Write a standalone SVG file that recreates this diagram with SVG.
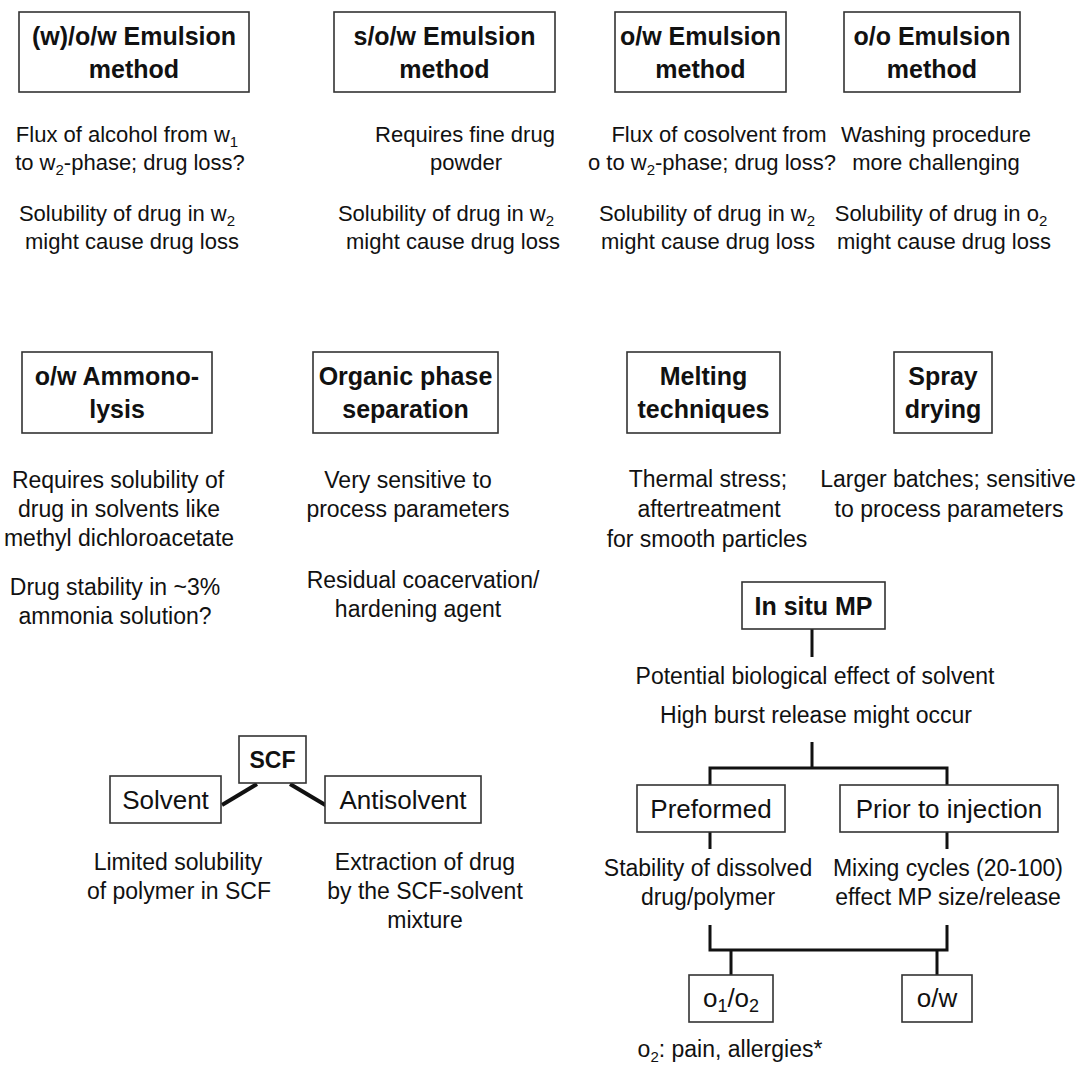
<svg xmlns="http://www.w3.org/2000/svg" width="1078" height="1065" viewBox="0 0 1078 1065">
<style>
  text { font-family: "Liberation Sans", Arial, sans-serif; fill: #111; text-anchor: middle; }
  .t { font-size: 22px; }
  .m { font-size: 23px; }
  .b { font-size: 25px; font-weight: bold; }
  .l { font-size: 26px; }
  .box { fill: #fff; stroke: #333; stroke-width: 1.6; }
  .c { fill: none; stroke: #111; stroke-width: 3; stroke-linejoin: miter; stroke-linecap: butt; }
  .c4 { fill: none; stroke: #111; stroke-width: 4; }
</style>
<rect width="1078" height="1065" fill="#fff"/>

<!-- Connectors -->
<g id="connectors">
  <line class="c4" x1="222" y1="805" x2="257" y2="784"/>
  <line class="c4" x1="290" y1="784" x2="327" y2="806"/>
  <path class="c" d="M812 629 V657"/>
  <path class="c" d="M812 742 V768 M710 785 V768 H947 V785"/>
  <path class="c" d="M710 832 V849 M947 832 V849"/>
  <path class="c" d="M710 925 V950 H947 V925 M731 950 V975 M937 950 V975"/>
</g>

<!-- Top row -->
<g id="node-wow">
  <rect class="box" x="19" y="12" width="230" height="80"/>
  <text class="b" x="134" y="45">(w)/o/w Emulsion</text>
  <text class="b" x="134" y="78">method</text>
</g>
<g id="note-wow">
  <text class="t" x="127" y="142">Flux of alcohol from w<tspan dy="5" font-size="15">1</tspan></text>
  <text class="t" x="130" y="170">to w<tspan dy="5" font-size="15">2</tspan><tspan dy="-5">-phase; drug loss?</tspan></text>
  <text class="t" x="127" y="221">Solubility of drug in w<tspan dy="5" font-size="15">2</tspan></text>
  <text class="t" x="132" y="249">might cause drug loss</text>
</g>

<g id="node-sow">
  <rect class="box" x="334" y="12" width="221" height="80"/>
  <text class="b" x="444.5" y="45">s/o/w Emulsion</text>
  <text class="b" x="444.5" y="78">method</text>
</g>
<g id="note-sow">
  <text class="t" x="465" y="142">Requires fine drug</text>
  <text class="t" x="466" y="170">powder</text>
  <text class="t" x="446" y="221">Solubility of drug in w<tspan dy="5" font-size="15">2</tspan></text>
  <text class="t" x="453" y="249">might cause drug loss</text>
</g>

<g id="node-ow">
  <rect class="box" x="615" y="12" width="171" height="80"/>
  <text class="b" x="700.5" y="45">o/w Emulsion</text>
  <text class="b" x="700.5" y="78">method</text>
</g>
<g id="note-ow">
  <text class="t" x="719" y="142">Flux of cosolvent from</text>
  <text class="t" x="712" y="170">o to w<tspan dy="5" font-size="15">2</tspan><tspan dy="-5">-phase; drug loss?</tspan></text>
  <text class="t" x="707" y="221">Solubility of drug in w<tspan dy="5" font-size="15">2</tspan></text>
  <text class="t" x="708" y="249">might cause drug loss</text>
</g>

<g id="node-oo">
  <rect class="box" x="844" y="12" width="176" height="80"/>
  <text class="b" x="932" y="45">o/o Emulsion</text>
  <text class="b" x="932" y="78">method</text>
</g>
<g id="note-oo">
  <text class="t" x="936" y="142">Washing procedure</text>
  <text class="t" x="936" y="170">more challenging</text>
  <text class="t" x="941" y="221">Solubility of drug in o<tspan dy="5" font-size="15">2</tspan></text>
  <text class="t" x="944" y="249">might cause drug loss</text>
</g>

<!-- Middle row -->
<g id="node-ammonolysis">
  <rect class="box" x="22" y="352" width="190" height="81"/>
  <text class="b" x="117" y="385">o/w Ammono-</text>
  <text class="b" x="117" y="418">lysis</text>
</g>
<g id="note-ammonolysis">
  <text class="m" x="118" y="488">Requires solubility of</text>
  <text class="m" x="119" y="517">drug in solvents like</text>
  <text class="m" x="119" y="546">methyl dichloroacetate</text>
  <text class="m" x="115" y="595">Drug stability in ~3%</text>
  <text class="m" x="115" y="624">ammonia solution?</text>
</g>

<g id="node-ops">
  <rect class="box" x="313" y="352" width="185" height="81"/>
  <text class="b" x="405.5" y="385">Organic phase</text>
  <text class="b" x="405.5" y="418">separation</text>
</g>
<g id="note-ops">
  <text class="m" x="408" y="488">Very sensitive to</text>
  <text class="m" x="408" y="517">process parameters</text>
  <text class="m" x="423" y="588">Residual coacervation/</text>
  <text class="m" x="418" y="617">hardening agent</text>
</g>

<g id="node-melting">
  <rect class="box" x="627" y="352" width="153" height="81"/>
  <text class="b" x="703.5" y="385">Melting</text>
  <text class="b" x="703.5" y="418">techniques</text>
</g>
<g id="note-melting">
  <text class="m" x="708" y="487">Thermal stress;</text>
  <text class="m" x="709" y="517">aftertreatment</text>
  <text class="m" x="707" y="547">for smooth particles</text>
</g>

<g id="node-spray">
  <rect class="box" x="894" y="352" width="98" height="81"/>
  <text class="b" x="943" y="385">Spray</text>
  <text class="b" x="943" y="418">drying</text>
</g>
<g id="note-spray">
  <text class="m" x="948" y="487">Larger batches; sensitive</text>
  <text class="m" x="949" y="517">to process parameters</text>
</g>

<!-- SCF -->
<g id="node-scf">
  <rect class="box" x="239" y="736" width="67" height="47"/>
  <text class="b" x="272.5" y="768" style="font-size:23px">SCF</text>
</g>
<g id="node-solvent">
  <rect class="box" x="110" y="776" width="111" height="47"/>
  <text class="l" x="165.5" y="809">Solvent</text>
</g>
<g id="node-antisolvent">
  <rect class="box" x="325" y="776" width="156" height="47"/>
  <text class="l" x="403" y="809">Antisolvent</text>
</g>
<g id="note-solvent">
  <text class="m" x="178" y="870">Limited solubility</text>
  <text class="m" x="179" y="899">of polymer in SCF</text>
</g>
<g id="note-antisolvent">
  <text class="m" x="425" y="870">Extraction of drug</text>
  <text class="m" x="425" y="899">by the SCF-solvent</text>
  <text class="m" x="425" y="928">mixture</text>
</g>

<!-- In situ MP -->
<g id="node-insitu">
  <rect class="box" x="742" y="582" width="143" height="47"/>
  <text class="b" x="813.5" y="615">In situ MP</text>
</g>
<g id="note-insitu">
  <text class="m" x="815" y="684">Potential biological effect of solvent</text>
  <text class="m" x="816" y="723">High burst release might occur</text>
</g>
<g id="node-preformed">
  <rect class="box" x="637" y="785" width="148" height="47"/>
  <text class="l" x="711" y="818">Preformed</text>
</g>
<g id="node-prior">
  <rect class="box" x="840" y="785" width="218" height="47"/>
  <text class="l" x="949" y="818">Prior to injection</text>
</g>
<g id="note-preformed">
  <text class="m" x="708" y="876">Stability of dissolved</text>
  <text class="m" x="708" y="905">drug/polymer</text>
</g>
<g id="note-prior">
  <text class="m" x="948" y="876">Mixing cycles (20-100)</text>
  <text class="m" x="948" y="905">effect MP size/release</text>
</g>
<g id="node-o1o2">
  <rect class="box" x="689" y="975" width="84" height="47"/>
  <text class="l" x="731" y="1007">o<tspan dy="5" font-size="18">1</tspan><tspan dy="-5">/o</tspan><tspan dy="5" font-size="18">2</tspan></text>
</g>
<g id="node-ow-final">
  <rect class="box" x="902" y="975" width="70" height="47"/>
  <text class="l" x="937" y="1007">o/w</text>
</g>
<g id="note-o1o2">
  <text class="m" x="730" y="1057">o<tspan dy="5" font-size="15">2</tspan><tspan dy="-5">: pain, allergies*</tspan></text>
</g>
</svg>
